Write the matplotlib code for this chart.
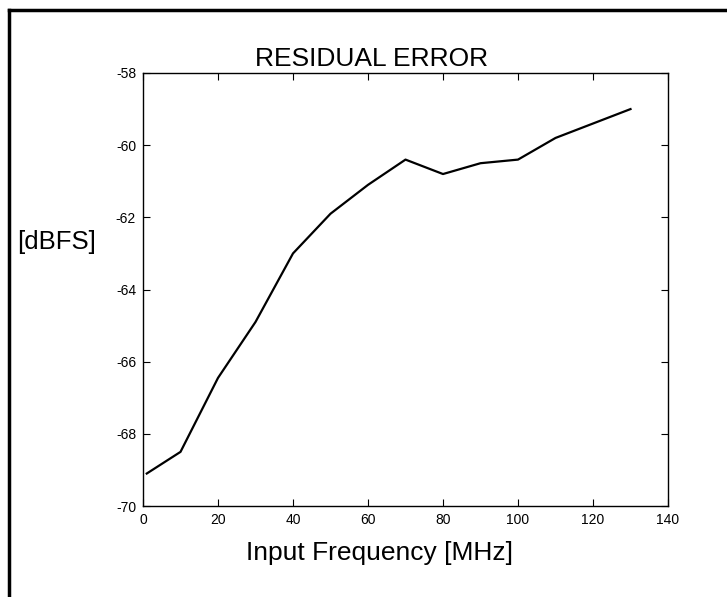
import matplotlib
matplotlib.use('Agg')
from matplotlib import pyplot as plt
from matplotlib.lines import Line2D

plt.rcParams['font.family'] = ['Liberation Sans', 'DejaVu Sans']
plt.rcParams['axes.unicode_minus'] = False

freq_mhz = [1, 10, 20, 30, 40, 50, 60, 70, 80, 90, 100, 110, 120, 130]
error_dbfs = [-69.1, -68.5, -66.45, -64.9, -63.0, -61.9, -61.1, -60.4,
              -60.8, -60.5, -60.4, -59.8, -59.4, -59.0]
x_ticks = [0, 20, 40, 60, 80, 100, 120, 140]
y_ticks = [-70, -68, -66, -64, -62, -60, -58]

fig = plt.figure(figsize=(7.27, 5.97), dpi=100)
W, H = 727, 597

# outer frame (right/bottom edges fall outside the picture)
fig.add_artist(Line2D([9 / W, 1.0], [1 - 10 / H, 1 - 10 / H], color='black', lw=2.5))
fig.add_artist(Line2D([9 / W, 9 / W], [0.0, 1 - 10 / H], color='black', lw=2.5))

ax = fig.add_axes([143 / W, 1 - 506 / H, (668 - 143) / W, (506 - 73) / H])
ax.plot(freq_mhz, error_dbfs, color='black', lw=1.6)

ax.set_xlim(0, 140)
ax.set_ylim(-70, -58)
ax.set_xticks(x_ticks)
ax.set_yticks(y_ticks)
ax.tick_params(direction='in', length=5, width=0.8, labelsize=10,
               top=True, right=True, pad=5)
for s in ax.spines.values():
    s.set_linewidth(1.0)

fig.text(372 / W, 1 - 66 / H, 'RESIDUAL ERROR', ha='center', va='baseline', fontsize=19)
fig.text(380 / W, 1 - 560 / H, 'Input Frequency [MHz]', ha='center', va='baseline', fontsize=19)
fig.text(17 / W, 1 - 249 / H, '[dBFS]', ha='left', va='baseline', fontsize=18.5)

plt.savefig('out.png', dpi=100)
